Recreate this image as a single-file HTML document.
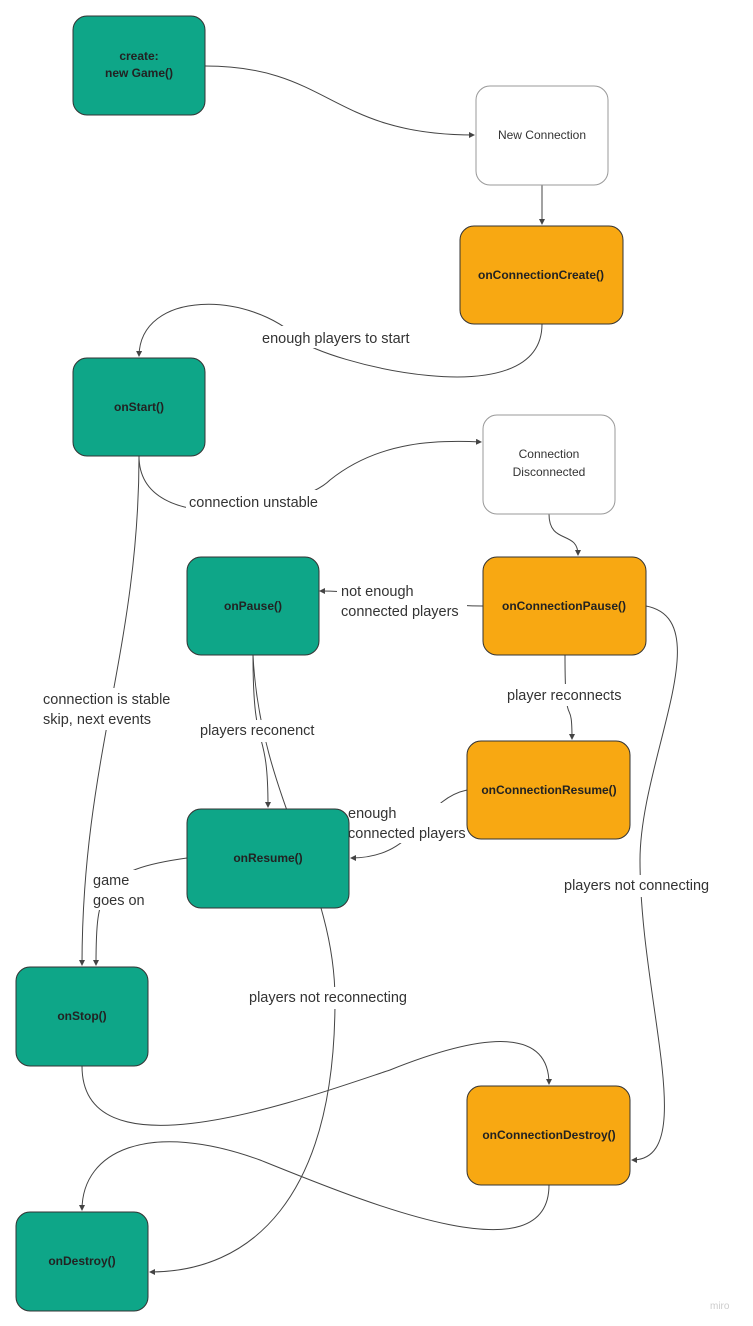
<!DOCTYPE html>
<html><head><style>
body{margin:0;background:#fff;}
svg{display:block;font-family:"Liberation Sans",sans-serif;}
.t{fill:#0ea688;stroke:#333;stroke-width:1}
.o{fill:#f8a812;stroke:#333;stroke-width:1}
.w{fill:#fff;stroke:#999;stroke-width:1}
.b{font-size:12px;font-weight:bold;fill:#222;text-anchor:middle}
.n{font-size:12px;fill:#333;text-anchor:middle}
.l{font-size:14.5px;fill:#333}
path{fill:none;stroke:#444;stroke-width:1}
</style></head><body>
<svg width="753" height="1326" viewBox="0 0 753 1326">
<defs><marker id="a" markerWidth="6" markerHeight="6" refX="5" refY="3" orient="auto"><path d="M0,0 L6,3 L0,6 z" style="fill:#444;stroke:none"/></marker></defs>
<!-- edges -->
<path marker-end="url(#a)" d="M205,66 C330,66 330,135 474,135"/>
<path marker-end="url(#a)" d="M542,185 L542,224"/>
<path marker-end="url(#a)" d="M542,324 C542,420 320,360 300,340 C250,290 140,290 139,356"/>
<path marker-end="url(#a)" d="M139,456 C139,540 300,510 330,480 C380,440 440,440 481,442"/>
<path marker-end="url(#a)" d="M549,514 C549,545 578,530 578,555"/>
<path marker-end="url(#a)" d="M483,606 C420,606 380,591 320,591"/>
<path marker-end="url(#a)" d="M565,655 C565,740 572,690 572,739"/>
<path marker-end="url(#a)" d="M467,790 C420,800 420,858 351,858"/>
<path marker-end="url(#a)" d="M253,655 C253,760 268,720 268,807"/>
<path marker-end="url(#a)" d="M187,858 C100,870 96,890 96,965"/>
<path marker-end="url(#a)" d="M139,456 C139,650 82,760 82,965"/>
<path marker-end="url(#a)" d="M82,1066 C82,1180 300,1100 390,1070 C490,1030 549,1030 549,1084"/>
<path marker-end="url(#a)" d="M646,606 C720,620 640,760 640,860 C640,1000 700,1160 632,1160"/>
<path marker-end="url(#a)" d="M549,1185 C549,1280 360,1200 260,1160 C150,1120 82,1150 82,1210"/>
<path marker-end="url(#a)" d="M253,655 C260,800 335,880 335,1000 C335,1200 250,1272 150,1272"/>
<!-- labels -->
<g class="l">
<rect x="258" y="326" width="164" height="22" fill="#fff"/><text x="262" y="343">enough players to start</text>
<rect x="186" y="490" width="144" height="22" fill="#fff"/><text x="189" y="507">connection unstable</text>
<rect x="337" y="580" width="130" height="40" fill="#fff"/><text x="341" y="596">not enough</text><text x="341" y="616">connected players</text>
<rect x="502" y="684" width="130" height="22" fill="#fff"/><text x="507" y="700">player reconnects</text>
<rect x="40" y="688" width="140" height="42" fill="#fff"/><text x="43" y="704">connection is stable</text><text x="43" y="724">skip, next events</text>
<rect x="197" y="720" width="127" height="22" fill="#fff"/><text x="200" y="735">players reconenct</text>
<rect x="345" y="803" width="128" height="40" fill="#fff"/><text x="348" y="818">enough</text><text x="348" y="838">connected players</text>
<rect x="90" y="870" width="70" height="40" fill="#fff"/><text x="93" y="885">game</text><text x="93" y="905">goes on</text>
<rect x="560" y="875" width="160" height="22" fill="#fff"/><text x="564" y="890">players not connecting</text>
<rect x="246" y="987" width="175" height="22" fill="#fff"/><text x="249" y="1002">players not reconnecting</text>
</g>
<!-- nodes -->
<rect class="t" x="73" y="16" width="132" height="99" rx="14"/>
<text class="b" x="139" y="60">create:</text><text class="b" x="139" y="77">new Game()</text>
<rect class="w" x="476" y="86" width="132" height="99" rx="14"/>
<text class="n" x="542" y="139">New Connection</text>
<rect class="o" x="460" y="226" width="163" height="98" rx="14"/>
<text class="b" x="541" y="279">onConnectionCreate()</text>
<rect class="t" x="73" y="358" width="132" height="98" rx="14"/>
<text class="b" x="139" y="411">onStart()</text>
<rect class="w" x="483" y="415" width="132" height="99" rx="14"/>
<text class="n" x="549" y="458">Connection</text><text class="n" x="549" y="476">Disconnected</text>
<rect class="t" x="187" y="557" width="132" height="98" rx="14"/>
<text class="b" x="253" y="610">onPause()</text>
<rect class="o" x="483" y="557" width="163" height="98" rx="14"/>
<text class="b" x="564" y="610">onConnectionPause()</text>
<rect class="o" x="467" y="741" width="163" height="98" rx="14"/>
<text class="b" x="549" y="794">onConnectionResume()</text>
<rect class="t" x="187" y="809" width="162" height="99" rx="14"/>
<text class="b" x="268" y="862">onResume()</text>
<rect class="t" x="16" y="967" width="132" height="99" rx="14"/>
<text class="b" x="82" y="1020">onStop()</text>
<rect class="o" x="467" y="1086" width="163" height="99" rx="14"/>
<text class="b" x="549" y="1139">onConnectionDestroy()</text>
<rect class="t" x="16" y="1212" width="132" height="99" rx="14"/>
<text class="b" x="82" y="1265">onDestroy()</text>
<text x="710" y="1309" style="font-size:10px;fill:#ccc">miro</text>
</svg>
</body></html>
